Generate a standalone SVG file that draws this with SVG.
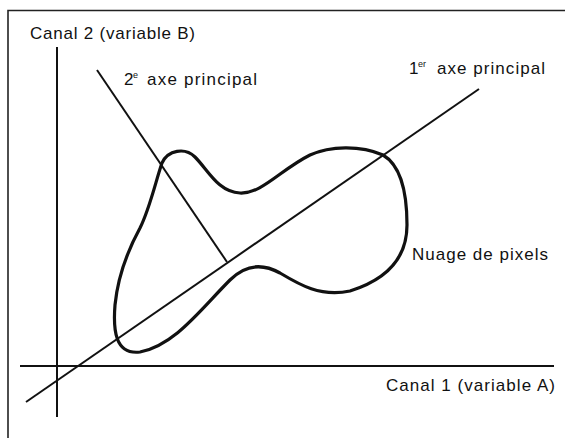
<svg xmlns="http://www.w3.org/2000/svg" width="565" height="438" viewBox="0 0 565 438">
<style>
.t{font-family:"Liberation Sans",Arial,sans-serif;font-size:17px;fill:#111}
.s{font-family:"Liberation Sans",Arial,sans-serif;font-size:9px;fill:#111}
.ln{stroke:#111;stroke-width:2;fill:none}
.fr{stroke:#222;stroke-width:1.6;fill:none}
.blob{stroke:#111;stroke-width:3.2;fill:none;stroke-linejoin:round}
</style>
<rect width="565" height="438" fill="#fff"/>
<g id="frame">
<path class="fr" d="M8 438 V10.5 H565"/>
</g>
<g id="connectors">
<line class="ln" x1="57" y1="47" x2="57" y2="417"/>
<line class="ln" x1="20" y1="366" x2="554" y2="366"/>
<line class="ln" x1="26" y1="402" x2="479" y2="89"/>
<line class="ln" x1="97" y1="70" x2="227" y2="262"/>
</g>
<g id="nuage">
<path class="blob" d="M162 163 C168 150,185 147,195 157 C208 170,218 192,240 193 C262 194,280 170,310 155 C330 146,360 145,383 155 C400 165,407 190,407 225 C407 260,385 280,350 291 C320 297,300 285,280 273 C262 263,245 265,230 280 C200 310,175 345,140 352 C115 355,113 330,115 305 C118 275,128 250,140 228 C150 208,156 180,162 163 Z"/>
<text class="t" x="412" y="260" textLength="136">Nuage de pixels</text>
</g>
<g id="canal2">
<text class="t" x="30" y="39" textLength="165">Canal 2 (variable B)</text>
</g>
<g id="canal1">
<text class="t" x="386" y="391" textLength="169">Canal 1 (variable A)</text>
</g>
<g id="axe2">
<text class="t" x="124" y="85">2</text>
<text class="s" x="133" y="78">e</text>
<text class="t" x="147" y="85" textLength="110">axe principal</text>
</g>
<g id="axe1">
<text class="t" x="409" y="74">1</text>
<text class="s" x="418" y="67">er</text>
<text class="t" x="437" y="74" textLength="108">axe principal</text>
</g>
</svg>
